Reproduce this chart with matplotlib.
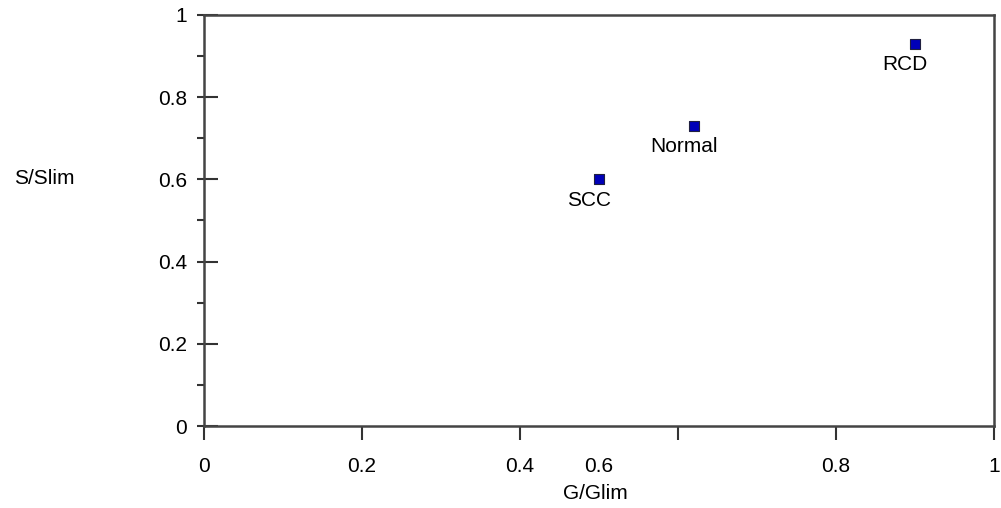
import matplotlib.pyplot as plt
from matplotlib.ticker import MultipleLocator

plt.rcParams['font.family'] = ['Liberation Sans', 'DejaVu Sans']

# data
names = ['SCC', 'Normal', 'RCD']
g_ratio = [0.50, 0.62, 0.90]
s_ratio = [0.60, 0.73, 0.93]

xtick_pos = [0, 0.2, 0.4, 0.6, 0.8, 1.0]
xtick_lab = ['0', '0.2', '0.4', '', '0.8', '1']
# the original chart draws its "0.6" label half way between ticks
xextra_pos = [0.5]
xextra_lab = ['0.6']
ytick_pos = [0, 0.2, 0.4, 0.6, 0.8, 1.0]
ytick_lab = ['0', '0.2', '0.4', '0.6', '0.8', '1']

fs = 15

fig = plt.figure(figsize=(10.01, 5.08), dpi=100)
ax = fig.add_axes([0.2038, 0.1614, 0.7892, 0.8091])

ax.scatter(g_ratio, s_ratio, marker='s', s=55, color='#0000b8',
           edgecolor='#202040', linewidth=0.8, zorder=3)
for n, x, y in zip(names, g_ratio, s_ratio):
    ax.annotate(n, (x, y), xytext=(-7, -8), textcoords='offset points',
                ha='center', va='top', fontsize=fs)

ax.set_xlim(0, 1)
ax.set_ylim(0, 1)

ax.set_xticks(xtick_pos)
ax.set_xticklabels(xtick_lab)
ax.set_xticks(xextra_pos, minor=True)
ax.set_xticklabels(xextra_lab, minor=True)
ax.tick_params(axis='x', which='major', direction='out', length=10, width=1.5,
               color='#333333', labelsize=fs, pad=12)
ax.tick_params(axis='x', which='minor', length=0, labelsize=fs, pad=22)

ax.set_yticks(ytick_pos)
ax.set_yticklabels(ytick_lab)
ax.yaxis.set_minor_locator(MultipleLocator(0.1))
ax.yaxis.remove_overlapping_locs = False
ax.tick_params(axis='y', which='major', direction='in', length=10, width=1.5,
               color='#333333', labelsize=fs, pad=12)
ax.tick_params(axis='y', which='minor', direction='out', length=5, width=1.5,
               color='#333333')

for sp in ax.spines.values():
    sp.set_linewidth(1.8)
    sp.set_color('#444444')

ax.set_xlabel('G/Glim', fontsize=fs, va='center')
ax.xaxis.set_label_coords(0.495, -0.165)
ax.set_ylabel('S/Slim', fontsize=fs, rotation=0, va='center')
ax.yaxis.set_label_coords(-0.2025, 0.603)

fig.savefig('out.png', dpi=100)
